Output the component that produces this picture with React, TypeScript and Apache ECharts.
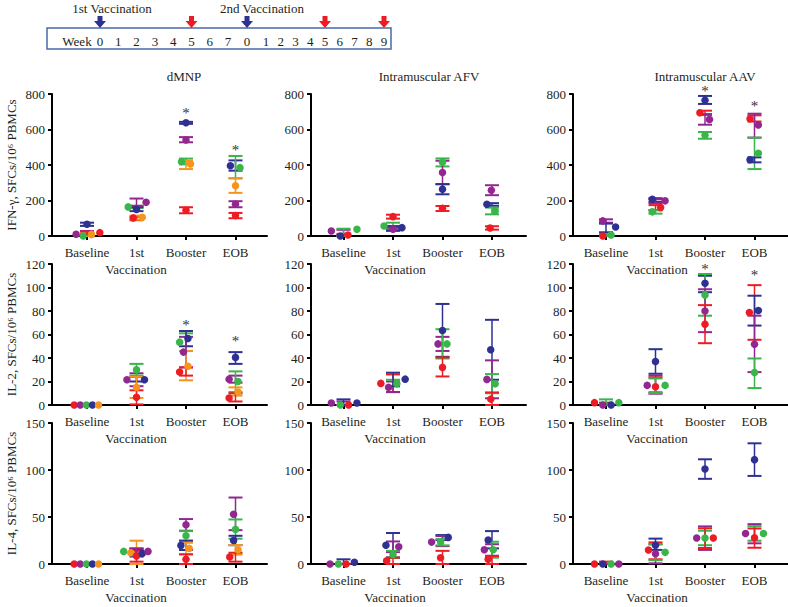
import React, { useEffect, useRef } from "react";
import * as echarts from "echarts";

const categories = ["Baseline", "1st", "Booster", "EOB"];
const groupTitles = ["dMNP", "Intramuscular AFV", "Intramuscular AAV"];
const yTitles = ["IFN-γ, SFCs/10⁶ PBMCs", "IL-2, SFCs/10⁶ PBMCs", "IL-4, SFCs/10⁶ PBMCs"];
const yMax = [800, 120, 150];
const yStep = [200, 20, 50];

const animalKeys = ["r", "p", "g", "b", "o"];
const animalColors = ["#ED1C24", "#92278F", "#39B54A", "#2E3192", "#F7941D"];

// [category, animal, jitter slot, value, low, high]
const ifnDmnp = [
  [0, "p", -1.7, 10, 0, 28], [0, "g", -0.6, 0, 0, 8], [0, "b", 0, 66, 57, 75], [0, "o", 0.7, 9, 0, 15], [0, "r", 2, 19, 8, 25],
  [1, "g", -1.3, 164, 158, 170], [1, "r", -0.5, 102, 89, 108], [1, "b", 0, 149, 140, 162], [1, "o", 0.9, 106, 92, 115], [1, "p", 1.5, 190, 170, 211],
  [2, "b", 0, 638, 632, 643], [2, "p", 0, 541, 528, 557], [2, "g", -0.7, 419, 404, 436], [2, "o", 0.7, 406, 377, 423], [2, "r", 0, 145, 128, 162],
  [3, "b", -0.8, 396, 368, 426], [3, "g", 0.7, 385, 325, 451], [3, "o", 0, 283, 243, 325], [3, "p", 0, 179, 162, 196], [3, "r", 0, 115, 100, 130],
];
const ifnAfv = [
  [0, "p", -1.9, 28, 5, 35], [0, "b", -0.5, 0, 0, 5], [0, "r", 0.7, 6, 0, 12], [0, "g", 2.1, 38, 0, 41],
  [1, "g", -1.4, 56, 34, 75], [1, "p", 0, 38, 30, 46], [1, "b", 1.4, 47, 30, 56], [1, "r", 0, 109, 98, 120],
  [2, "g", 0, 416, 392, 437], [2, "p", 0, 358, 292, 424], [2, "b", 0, 264, 235, 292], [2, "r", 0, 156, 141, 169],
  [3, "p", -0.1, 258, 230, 286], [3, "b", -0.8, 179, 170, 185], [3, "g", 0.5, 141, 122, 160], [3, "r", -0.3, 45, 36, 55],
];
const ifnAav = [
  [0, "p", -0.5, 85, 75, 94], [0, "r", -0.5, 0, 0, 3], [0, "g", 0.8, 6, 0, 10], [0, "b", 1.5, 51, 21, 70],
  [1, "b", -0.5, 207, 192, 213], [1, "p", 1.5, 198, 185, 207], [1, "r", 0.8, 160, 146, 174], [1, "g", -0.5, 136, 126, 145],
  [2, "b", 0, 765, 744, 789], [2, "r", -0.8, 694, 682, 706], [2, "p", 0.7, 657, 627, 687], [2, "g", 0, 567, 548, 586],
  [3, "r", -0.7, 661, 645, 680], [3, "p", 0.6, 626, 554, 689], [3, "g", 0.6, 466, 377, 554], [3, "b", -0.7, 430, 415, 443],
];
const il2Dmnp = [
  [0, "r", -2, 0, 0, 0], [0, "p", -1.05, 0, 0, 0], [0, "g", -0.1, 0, 0, 0], [0, "b", 0.85, 0, 0, 0], [0, "o", 1.8, 0, 0, 0],
  [1, "p", -1.5, 21.5, 16, 27], [1, "b", 1.25, 21.5, 20, 24], [1, "g", 0, 30, 25, 35], [1, "o", 0, 15, 6, 24], [1, "r", 0, 6.5, 0.5, 12.5],
  [2, "g", -1, 53.5, 46, 61], [2, "b", 0.3, 56.6, 50, 63], [2, "p", -0.4, 45, 32, 58], [2, "o", 0.3, 33, 21, 46], [2, "r", -1, 28, 25, 32],
  [3, "b", 0, 40.5, 35, 45], [3, "p", -1, 22, 19, 25], [3, "g", 0.4, 20, 11, 28.6], [3, "o", 0.4, 11, 8, 15], [3, "r", -1, 6, 3, 10],
];
const il2Afv = [
  [0, "p", -1.9, 1.7, 0, 3], [0, "g", -0.5, 0, 0, 0], [0, "r", 0.8, 0, 0, 0], [0, "b", 2.1, 1.7, 0, 4.8],
  [1, "r", -1.9, 18.4, 11, 26], [1, "p", -0.7, 15, 11, 20], [1, "g", 0.6, 18, 16, 21.5], [1, "b", 1.9, 22, 16, 27.5],
  [2, "b", 0, 63.4, 41, 86], [2, "p", -0.7, 52, 46, 58], [2, "g", 0.7, 52, 39.6, 64.5], [2, "r", 0, 32, 24.3, 40.5],
  [3, "b", -0.2, 47, 21.5, 72.5], [3, "p", -0.8, 21.8, 5.7, 38], [3, "g", 0.5, 18, 10, 26.3], [3, "r", -0.2, 5, 0, 10.7],
];
const il2Aav = [
  [0, "r", -1.8, 2, 0, 2], [0, "p", -0.5, 0, 0, 0], [0, "b", 0.8, 0, 0, 0], [0, "g", 2, 2, 0, 4.8],
  [1, "b", 0, 37, 26.6, 47.5], [1, "p", -1.3, 16.7, 9.6, 25], [1, "r", 0, 15.6, 10.8, 23.5], [1, "g", 1.5, 16.7, 10.2, 22.6],
  [2, "b", 0, 103.6, 96, 110], [2, "g", 0, 93.7, 76, 111.5], [2, "p", 0, 80, 62, 98.5], [2, "r", 0, 68.8, 52.6, 85],
  [3, "r", -0.8, 78.7, 55.5, 102], [3, "b", 0.6, 80.4, 67.6, 93], [3, "p", 0, 51.8, 28, 76], [3, "g", 0, 27.7, 14.4, 39.6],
];
const il4Dmnp = [
  [0, "r", -2, 0, 0, 0], [0, "p", -1.05, 0, 0, 0], [0, "g", -0.1, 0, 0, 0], [0, "b", 0.85, 0, 0, 0], [0, "o", 1.8, 0, 0, 0],
  [1, "g", -2, 13.4, 10, 16.5], [1, "o", -0.9, 12, 0, 24.8], [1, "r", 0, 8.5, 2.5, 14], [1, "b", 0.9, 11.3, 8, 16], [1, "p", 1.8, 13.4, 11.3, 16.6],
  [2, "p", 0, 41.7, 35.4, 47.8], [2, "g", 0, 30, 24.8, 35], [2, "b", -0.8, 19.8, 14.9, 24.8], [2, "o", 0.5, 16.6, 10.3, 22.6], [2, "r", 0, 5, 0, 10.3],
  [3, "p", -0.3, 53, 36, 70.7], [3, "g", 0, 36.8, 26.9, 47.4], [3, "b", -0.3, 25, 20, 30], [3, "o", 0.4, 15.2, 10, 20.2], [3, "r", -0.9, 7.4, 2.5, 12],
];
const il4Afv = [
  [0, "p", -2.1, 0, 0, 0], [0, "g", -0.8, 0, 0, 0], [0, "r", 0.4, 0, 0, 0], [0, "b", 1.7, 1.8, 0, 5],
  [1, "b", -1.1, 20, 7, 33], [1, "p", 0.9, 18.4, 12.7, 24], [1, "g", 0, 10, 6.4, 14], [1, "r", -1, 3.5, 0, 6.7],
  [2, "b", 0.9, 28.3, 25.5, 30.8], [2, "p", -1.7, 23.3, 19, 29.7], [2, "g", -0.3, 23.3, 19.8, 26.5], [2, "r", -0.3, 6.7, 0, 14],
  [3, "b", -0.6, 25.5, 16.6, 35], [3, "p", -1.2, 15.2, 8.8, 21], [3, "g", 0.2, 15.2, 6.7, 23.7], [3, "r", -0.6, 5, 0, 8.5],
];
const il4Aav = [
  [0, "r", -1.8, 0, 0, 2.5], [0, "b", -0.5, 0, 0, 0], [0, "g", 0.8, 0, 0, 0], [0, "p", 2, 0, 0, 0],
  [1, "r", -1.1, 14.9, 5, 23], [1, "p", 0, 11, 0.7, 21], [1, "g", 1.5, 12.4, 4, 21], [1, "b", 0, 20, 15, 27],
  [2, "b", 0, 101, 90.6, 111.4], [2, "p", -1.3, 27.6, 15, 40], [2, "g", 0, 27.6, 20, 35.4], [2, "r", 1.3, 27.6, 17, 38],
  [3, "b", 0, 111, 93.7, 128.4], [3, "p", -1.4, 32.5, 22, 42.4], [3, "g", 1.4, 32.5, 24.8, 40.3], [3, "r", 0, 28, 17.3, 37.8],
];

const panelData = [
  [ifnDmnp, ifnAfv, ifnAav],
  [il2Dmnp, il2Afv, il2Aav],
  [il4Dmnp, il4Afv, il4Aav],
];

// [row, column, category, value]
const asterisks = [
  [0, 0, 2, 710], [0, 0, 3, 501], [0, 2, 2, 834], [0, 2, 3, 749],
  [1, 0, 2, 70.6], [1, 0, 3, 57], [1, 2, 2, 118.3], [1, 2, 3, 113.2],
];

const weeksFirst = ["0", "1", "2", "3", "4", "5", "6", "7"];
const weeksSecond = ["0", "1", "2", "3", "4", "5", "6", "7", "8", "9"];
const vaccinationWeeks = [[0, 0], [1, 0]]; // [phase, week index]
const sampleWeeks = [[0, 5], [1, 5], [1, 9]];

const FONT = '"Liberation Serif", "Times New Roman", serif';
const TEXT = "#231f20";
const colLeft = [52, 311, 573];
const colFirstOffset = [35, 32.5, 33];
const rowTop = [94, 264, 423];
const rowHeight = [142, 141, 141];
const PANEL_W = 215;
const UNIT_PX = 49.5;
const JIT = 6.4 / UNIT_PX;

function buildOption() {
  const grid: any[] = [];
  const xAxis: any[] = [];
  const yAxis: any[] = [];
  const series: any[] = [];

  for (let r = 0; r < 3; r++) {
    for (let c = 0; c < 3; c++) {
      const idx = r * 3 + c;
      grid.push({ left: colLeft[c], top: rowTop[r], width: PANEL_W, height: rowHeight[r] });
      const xMin = 1 - colFirstOffset[c] / UNIT_PX;
      xAxis.push({
        type: "value",
        gridIndex: idx,
        min: xMin,
        max: xMin + PANEL_W / UNIT_PX,
        axisLine: { show: true, onZero: false, lineStyle: { color: "#000", width: 2 } },
        axisTick: { show: true, customValues: [1, 2, 3, 4], length: 4, lineStyle: { color: "#000", width: 2 } },
        axisLabel: {
          show: true,
          customValues: [1, 2, 3, 4],
          formatter: (v: number) => categories[Math.round(v) - 1] ?? "",
          margin: 10,
          fontFamily: FONT,
          fontSize: 13,
          color: TEXT,
        },
        splitLine: { show: false },
        name: "Vaccination",
        nameLocation: "middle",
        nameGap: 27,
        nameTextStyle: { fontFamily: FONT, fontSize: 13, color: TEXT, padding: [0, 47, 0, 0] },
      });
      yAxis.push({
        type: "value",
        gridIndex: idx,
        min: 0,
        max: yMax[r],
        interval: yStep[r],
        axisLine: { show: true, onZero: false, lineStyle: { color: "#000", width: 2 } },
        axisTick: { show: true, length: 4, lineStyle: { color: "#000", width: 2 } },
        axisLabel: { margin: 7, fontFamily: FONT, fontSize: 13, color: TEXT },
        splitLine: { show: false },
        name: c === 0 ? yTitles[r] : "",
        nameLocation: "middle",
        nameGap: 34,
        nameTextStyle: { fontFamily: FONT, fontSize: 13, color: TEXT },
      });

      const rows = panelData[r][c] as any[];
      series.push({
        type: "custom",
        xAxisIndex: idx,
        yAxisIndex: idx,
        clip: false,
        z: 2,
        data: rows.map((d) => [d[0] + 1, d[4], d[5], animalKeys.indexOf(d[1])]),
        encode: { x: 0, y: [1, 2] },
        renderItem: (params: any, api: any) => {
          const x = api.value(0);
          const pLo = api.coord([x, api.value(1)]);
          const pHi = api.coord([x, api.value(2)]);
          const color = animalColors[api.value(3)];
          const hw = 7;
          return {
            type: "group",
            children: [
              { type: "line", shape: { x1: pLo[0], y1: pLo[1], x2: pHi[0], y2: pHi[1] }, style: { stroke: color, lineWidth: 1.5 } },
              { type: "line", shape: { x1: pHi[0] - hw, y1: pHi[1], x2: pHi[0] + hw, y2: pHi[1] }, style: { stroke: color, lineWidth: 2 } },
              { type: "line", shape: { x1: pLo[0] - hw, y1: pLo[1], x2: pLo[0] + hw, y2: pLo[1] }, style: { stroke: color, lineWidth: 2 } },
            ],
          };
        },
      });
      series.push({
        type: "scatter",
        xAxisIndex: idx,
        yAxisIndex: idx,
        z: 3,
        clip: false,
        symbol: "circle",
        symbolSize: 7.5,
        data: rows.map((d) => [d[0] + 1 + d[2] * JIT, d[3], animalKeys.indexOf(d[1])]),
        itemStyle: { color: (p: any) => animalColors[p.data[2]], opacity: 1 },
      });
      const stars = asterisks.filter((a) => a[0] === r && a[1] === c);
      if (stars.length) {
        series.push({
          type: "custom",
          xAxisIndex: idx,
          yAxisIndex: idx,
          clip: false,
          z: 4,
          data: stars.map((a) => [a[2] + 1, a[3]]),
          renderItem: (params: any, api: any) => {
            const p = api.coord([api.value(0), api.value(1)]);
            return {
              type: "text",
              x: p[0],
              y: p[1] + 3,
              style: { text: "*", fontFamily: FONT, fontSize: 15, fill: "#333", align: "center", verticalAlign: "middle" },
            };
          },
        });
      }
    }
  }

  // timeline graphic
  const graphic: any[] = [];
  const wx1 = (i: number) => 100 + i * 18.3;
  const wx2 = (i: number) => (i === 0 ? 247 : 266 + (i - 1) * 14.75);
  graphic.push({ type: "rect", shape: { x: 47, y: 28, width: 344, height: 21 }, style: { fill: "#fff", stroke: "#4a6aa5", lineWidth: 1.5 } });
  graphic.push({ type: "text", x: 77, y: 41, style: { text: "Week", fontFamily: FONT, fontSize: 13, fill: TEXT, align: "center", verticalAlign: "middle" } });
  weeksFirst.forEach((w, i) =>
    graphic.push({ type: "text", x: wx1(i), y: 41, style: { text: w, fontFamily: FONT, fontSize: 13, fill: TEXT, align: "center", verticalAlign: "middle" } })
  );
  weeksSecond.forEach((w, i) =>
    graphic.push({ type: "text", x: wx2(i), y: 41, style: { text: w, fontFamily: FONT, fontSize: 13, fill: TEXT, align: "center", verticalAlign: "middle" } })
  );
  const arrow = (cx: number, color: string) => ({
    type: "polygon",
    shape: { points: [[cx - 2.5, 16], [cx + 2.5, 16], [cx + 2.5, 21], [cx + 6, 21], [cx, 28], [cx - 6, 21], [cx - 2.5, 21]] },
    style: { fill: color },
  });
  vaccinationWeeks.forEach(([ph, wi]) => graphic.push(arrow(ph === 0 ? wx1(wi) : wx2(wi), "#2E3192")));
  sampleWeeks.forEach(([ph, wi]) => graphic.push(arrow(ph === 0 ? wx1(wi) : wx2(wi), "#ED1C24")));
  graphic.push({ type: "text", x: 112, y: 8, style: { text: "1st Vaccination", fontFamily: FONT, fontSize: 13, fill: TEXT, align: "center", verticalAlign: "middle" } });
  graphic.push({ type: "text", x: 262, y: 8, style: { text: "2nd Vaccination", fontFamily: FONT, fontSize: 13, fill: TEXT, align: "center", verticalAlign: "middle" } });

  const titleX = [184, 429, 705];
  groupTitles.forEach((t, i) =>
    graphic.push({ type: "text", x: titleX[i], y: 76, style: { text: t, fontFamily: FONT, fontSize: 13, fill: TEXT, align: "center", verticalAlign: "middle" } })
  );

  return {
    animation: false,
    backgroundColor: "#fff",
    grid,
    xAxis,
    yAxis,
    series,
    graphic,
  };
}

export default function App() {
  const ref = useRef<HTMLDivElement>(null);
  useEffect(() => {
    const chart = echarts.init(ref.current!, null, { renderer: "svg" });
    chart.setOption(buildOption() as any);
    return () => chart.dispose();
  }, []);
  return (
    <div
      ref={ref}
      style={{ position: "fixed", left: 0, top: 0, width: 788, height: 607, background: "#fff" }}
    />
  );
}
